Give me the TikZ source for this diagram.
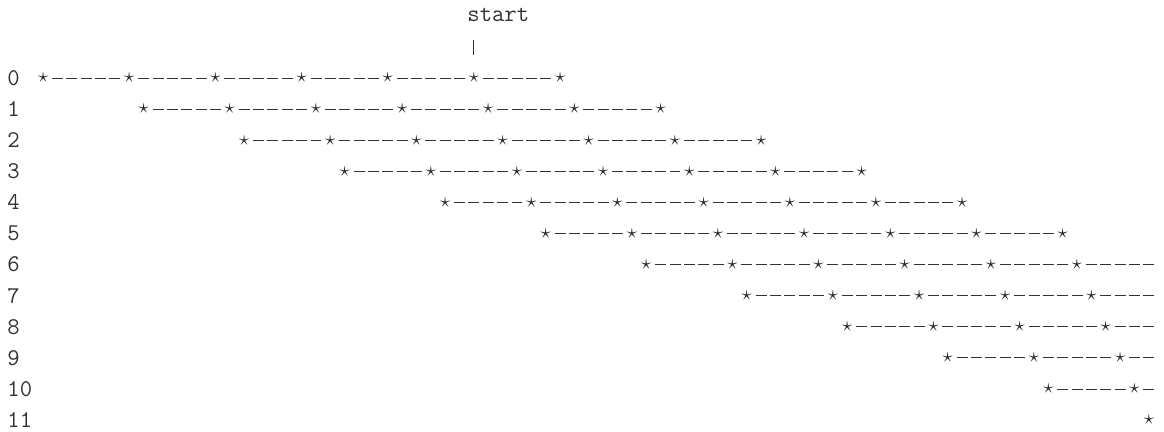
\documentclass[tikz,border=0pt]{standalone}
\usepackage{fontspec}
\usepackage{tikz}
\usetikzlibrary{calc}
\tikzset{
  num/.style = {inner sep=0pt, anchor=west, text=black!80,
                font=\ttfamily\fontsize{24}{24}\selectfont\addfontfeature{LetterSpace=7.5}},
  st/.style  = {inner sep=0pt, text=black!85,
                font=\fontsize{20}{20}\selectfont},
  dl/.style  = {draw=black!80, line width=1pt, dash pattern=on 11pt off 3.36pt,
                shorten <=8.9pt, shorten >=8.9pt},
  bar/.style = {draw=black!80, line width=1pt, shorten <=18pt, shorten >=23pt},
}
\begin{document}
\begin{tikzpicture}[x=1pt, y=-1pt]
  \useasboundingbox (0,0) rectangle (1164,431);
  \node[num] (start) at (467.2,15) {start};
  % rows 0..11, each one shifted 7 columns, stars every 6 columns
  \foreach \r in {0,...,11}{
    \pgfmathtruncatemacro\cz{2+7*\r}
    \node[num] (n\r) at (7.2,78+31.1*\r) {\r};
    \foreach \k in {0,...,6}{
      \pgfmathtruncatemacro\c{\cz+6*\k}
      \ifnum\c<80
        \node[st] (s\r-\k) at (14.4+14.36*\c,78+31.1*\r) {$\star$};
        \ifnum\k>0
          \pgfmathtruncatemacro\kp{\k-1}
          \draw[dl] (s\r-\kp.center) -- (s\r-\k.center);
        \fi
      \fi
    }
    \pgfmathtruncatemacro\kl{min(6,floor((79-\cz)/6))}
    \pgfmathtruncatemacro\cl{\cz+6*\kl}
    \ifnum\kl<6 \ifnum\cl<79
      \coordinate (e\r) at (14.4+14.36*80,78+31.1*\r);
      \draw[dl] (s\r-\kl.center) -- (e\r);
    \fi\fi
  }
  \draw[bar] (s0-5 |- start.south) -- (s0-5.center);
\end{tikzpicture}
\end{document}
